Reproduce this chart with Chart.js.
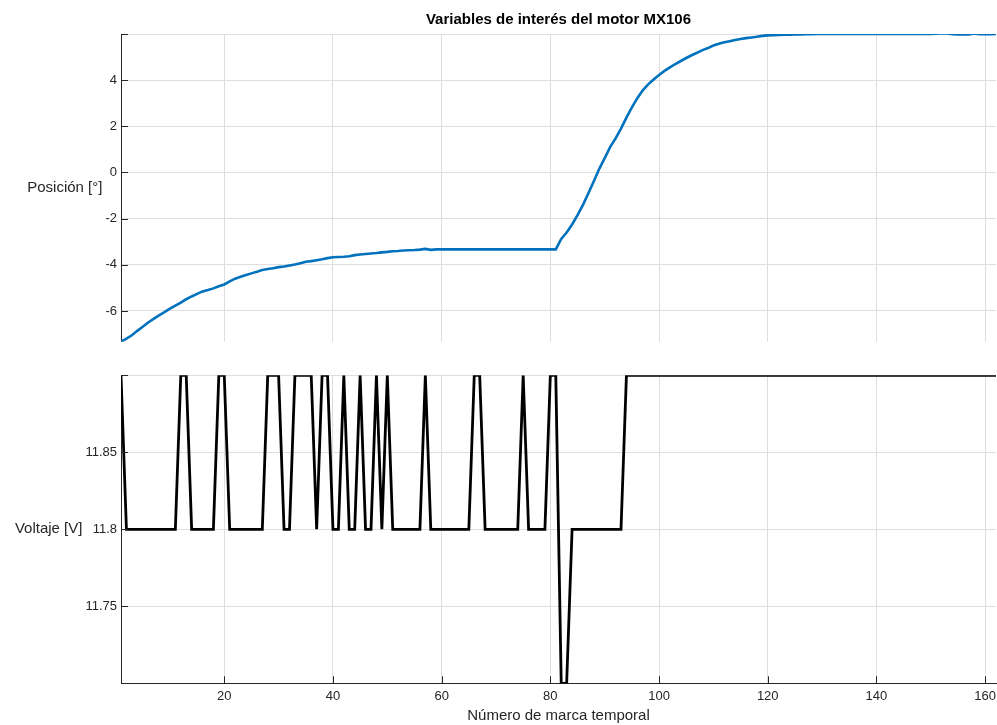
<!DOCTYPE html>
<html>
<head>
<meta charset="utf-8">
<script src="https://cdn.jsdelivr.net/npm/chart.js@4.4.1/dist/chart.umd.min.js"></script>
<style>
html,body{margin:0;padding:0;background:#fff;}
body{width:997px;height:725px;position:relative;overflow:hidden;}
#posChart{position:absolute;left:0;top:0;}
#voltChart{position:absolute;left:0;top:350px;}
</style>
</head>
<body>
<canvas id="posChart" width="1005" height="360"></canvas>
<canvas id="voltChart" width="1005" height="375"></canvas>
<script>
// Posicion [deg] por marca temporal 1..162
const position = [
-7.33,-7.20,-7.05,-6.86,-6.68,-6.50,-6.34,-6.19,-6.05,-5.90,
-5.77,-5.64,-5.49,-5.37,-5.26,-5.15,-5.09,-5.02,-4.93,-4.85,
-4.72,-4.60,-4.52,-4.44,-4.37,-4.30,-4.22,-4.18,-4.15,-4.10,
-4.07,-4.03,-3.99,-3.93,-3.87,-3.84,-3.80,-3.76,-3.71,-3.67,
-3.66,-3.65,-3.63,-3.58,-3.55,-3.53,-3.51,-3.49,-3.46,-3.44,
-3.41,-3.40,-3.38,-3.37,-3.36,-3.34,-3.31,-3.35,-3.33,-3.33,
-3.33,-3.33,-3.33,-3.33,-3.33,-3.33,-3.33,-3.33,-3.33,-3.33,
-3.33,-3.33,-3.33,-3.33,-3.33,-3.33,-3.33,-3.33,-3.33,-3.33,
-3.33,-2.88,-2.60,-2.25,-1.85,-1.40,-0.90,-0.38,0.16,0.62,
1.10,1.48,1.90,2.38,2.82,3.22,3.56,3.82,4.03,4.22,
4.40,4.55,4.70,4.83,4.96,5.08,5.19,5.30,5.39,5.50,
5.58,5.64,5.69,5.74,5.78,5.82,5.85,5.88,5.92,5.94,
5.95,5.96,5.97,5.97,5.98,5.98,5.99,5.99,6.00,6.00,
6.00,6.00,6.00,6.00,6.00,6.00,6.00,6.00,6.00,6.00,
6.00,6.00,6.00,6.00,6.00,6.00,6.00,6.00,6.00,6.00,
6.01,6.03,6.02,5.99,5.98,5.98,5.98,6.02,5.99,5.99,
5.99,6.00
];

// Voltaje [V]
const voltage = [
11.9,11.8,11.8,11.8,11.8,11.8,11.8,11.8,11.8,11.8,
11.8,11.9,11.9,11.8,11.8,11.8,11.8,11.8,11.9,11.9,
11.8,11.8,11.8,11.8,11.8,11.8,11.8,11.9,11.9,11.9,
11.8,11.8,11.9,11.9,11.9,11.9,11.8,11.9,11.9,11.8,
11.8,11.9,11.8,11.8,11.9,11.8,11.8,11.9,11.8,11.9,
11.8,11.8,11.8,11.8,11.8,11.8,11.9,11.8,11.8,11.8,
11.8,11.8,11.8,11.8,11.8,11.9,11.9,11.8,11.8,11.8,
11.8,11.8,11.8,11.8,11.9,11.8,11.8,11.8,11.8,11.9,
11.9,11.7,11.7,11.8,11.8,11.8,11.8,11.8,11.8,11.8,
11.8,11.8,11.8,11.9,11.9,11.9,11.9,11.9,11.9,11.9,
11.9,11.9,11.9,11.9,11.9,11.9,11.9,11.9,11.9,11.9,
11.9,11.9,11.9,11.9,11.9,11.9,11.9,11.9,11.9,11.9,
11.9,11.9,11.9,11.9,11.9,11.9,11.9,11.9,11.9,11.9,
11.9,11.9,11.9,11.9,11.9,11.9,11.9,11.9,11.9,11.9,
11.9,11.9,11.9,11.9,11.9,11.9,11.9,11.9,11.9,11.9,
11.9,11.9,11.9,11.9,11.9,11.9,11.9,11.9,11.9,11.9,
11.9,11.9
];

const xTicks = [20,40,60,80,100,120,140,160];
const posTicks = [-6,-4,-2,0,2,4];
const voltTicks = [11.75,11.8,11.85];
const xMin = 1, xMax = 162;
const posMin = -7.33, posMax = 6.0;
const voltMin = 11.7, voltMax = 11.9;

const sampleIndex = position.map((v,i)=>i+1);

const FONT = '"Liberation Sans", Arial, Helvetica, sans-serif';
const AXIS = '#262626';
const GRID = '#dedede';
Chart.defaults.font.family = FONT;
Chart.defaults.color = AXIS;

// ejes estilo matlab: marcas hacia dentro + etiqueta y horizontal
const matlabAxes = {
  id: 'matlabAxes',
  afterDraw(chart, args, opts){
    const ctx = chart.ctx, a = chart.chartArea;
    const xs = chart.scales.x, ys = chart.scales.y;
    ctx.save();
    ctx.strokeStyle = AXIS;
    ctx.lineWidth = 1;
    ctx.beginPath();
    ys.ticks.forEach(t=>{
      const py = Math.round(ys.getPixelForValue(t.value)) + 0.5;
      ctx.moveTo(a.left, py);
      ctx.lineTo(a.left + 7, py);
    });
    if (opts.xTicks){
      xs.ticks.forEach(t=>{
        const px = Math.round(xs.getPixelForValue(t.value)) + 0.5;
        ctx.moveTo(px, a.bottom);
        ctx.lineTo(px, a.bottom - 7);
      });
    }
    ctx.stroke();

    ctx.font = '13px ' + FONT;
    let w = 0;
    ys.ticks.forEach(t=>{ if (t.label) w = Math.max(w, ctx.measureText(t.label).width); });
    const right = ys.right - ys.options.ticks.padding - w - 3;
    ctx.font = '15px ' + FONT;
    ctx.fillStyle = AXIS;
    ctx.textAlign = 'right';
    ctx.textBaseline = 'middle';
    ctx.fillText(opts.label, right, (a.top + a.bottom) / 2);
    ctx.restore();
  }
};

function xScale(showLabels){
  return {
    type: 'linear',
    min: xMin,
    max: xMax,
    afterBuildTicks: s => { s.ticks = xTicks.map(v=>({value:v})); },
    afterFit: s => { s.height = showLabels ? 41.7 : 18.3; },
    grid: { color: GRID, drawTicks: false },
    border: { display: showLabels, color: AXIS, width: 1 },
    ticks: { display: showLabels, padding: 5, font: { size: 13 }, color: AXIS, maxRotation: 0 },
    title: {
      display: showLabels,
      text: 'Número de marca temporal',
      font: { size: 15 },
      color: AXIS,
      padding: { top: 0, bottom: 0 }
    }
  };
}

function yScale(min, max, ticks){
  return {
    min: min,
    max: max,
    afterBuildTicks: s => { s.ticks = ticks.concat([max]).map(v=>({value:v})); },
    afterFit: s => { s.width = 121; },
    grid: { color: GRID, drawTicks: false },
    border: { display: true, color: AXIS, width: 1 },
    ticks: {
      padding: 4,
      font: { size: 13 },
      color: AXIS,
      callback: v => (v === max ? '' : String(v))
    }
  };
}

new Chart(document.getElementById('posChart'), {
  type: 'line',
  data: {
    labels: sampleIndex,
    datasets: [{
      data: position,
      borderColor: '#0072BD',
      borderWidth: 2.6,
      pointRadius: 0,
      tension: 0,
      fill: false
    }]
  },
  options: {
    responsive: false,
    animation: false,
    layout: { padding: { top: 0, left: 0, right: 9, bottom: 0 } },
    plugins: {
      legend: { display: false },
      tooltip: { enabled: false },
      title: {
        display: true,
        text: 'Variables de interés del motor MX106',
        fullSize: false,
        color: '#000',
        font: { size: 15, weight: 'bold' },
        padding: { top: 10.5, bottom: 5.5 }
      },
      matlabAxes: { label: 'Posición [°]', xTicks: false }
    },
    scales: {
      x: xScale(false),
      y: yScale(posMin, posMax, posTicks)
    }
  },
  plugins: [matlabAxes]
});

new Chart(document.getElementById('voltChart'), {
  type: 'line',
  data: {
    labels: sampleIndex,
    datasets: [{
      data: voltage,
      borderColor: '#000',
      borderWidth: 2.8,
      pointRadius: 0,
      tension: 0,
      fill: false
    }]
  },
  options: {
    responsive: false,
    animation: false,
    layout: { padding: { top: 25.3, left: 0, right: 9, bottom: 0 } },
    plugins: {
      legend: { display: false },
      tooltip: { enabled: false },
      matlabAxes: { label: 'Voltaje [V]', xTicks: true }
    },
    scales: {
      x: xScale(true),
      y: yScale(voltMin, voltMax, voltTicks)
    }
  },
  plugins: [matlabAxes]
});
</script>
</body>
</html>
